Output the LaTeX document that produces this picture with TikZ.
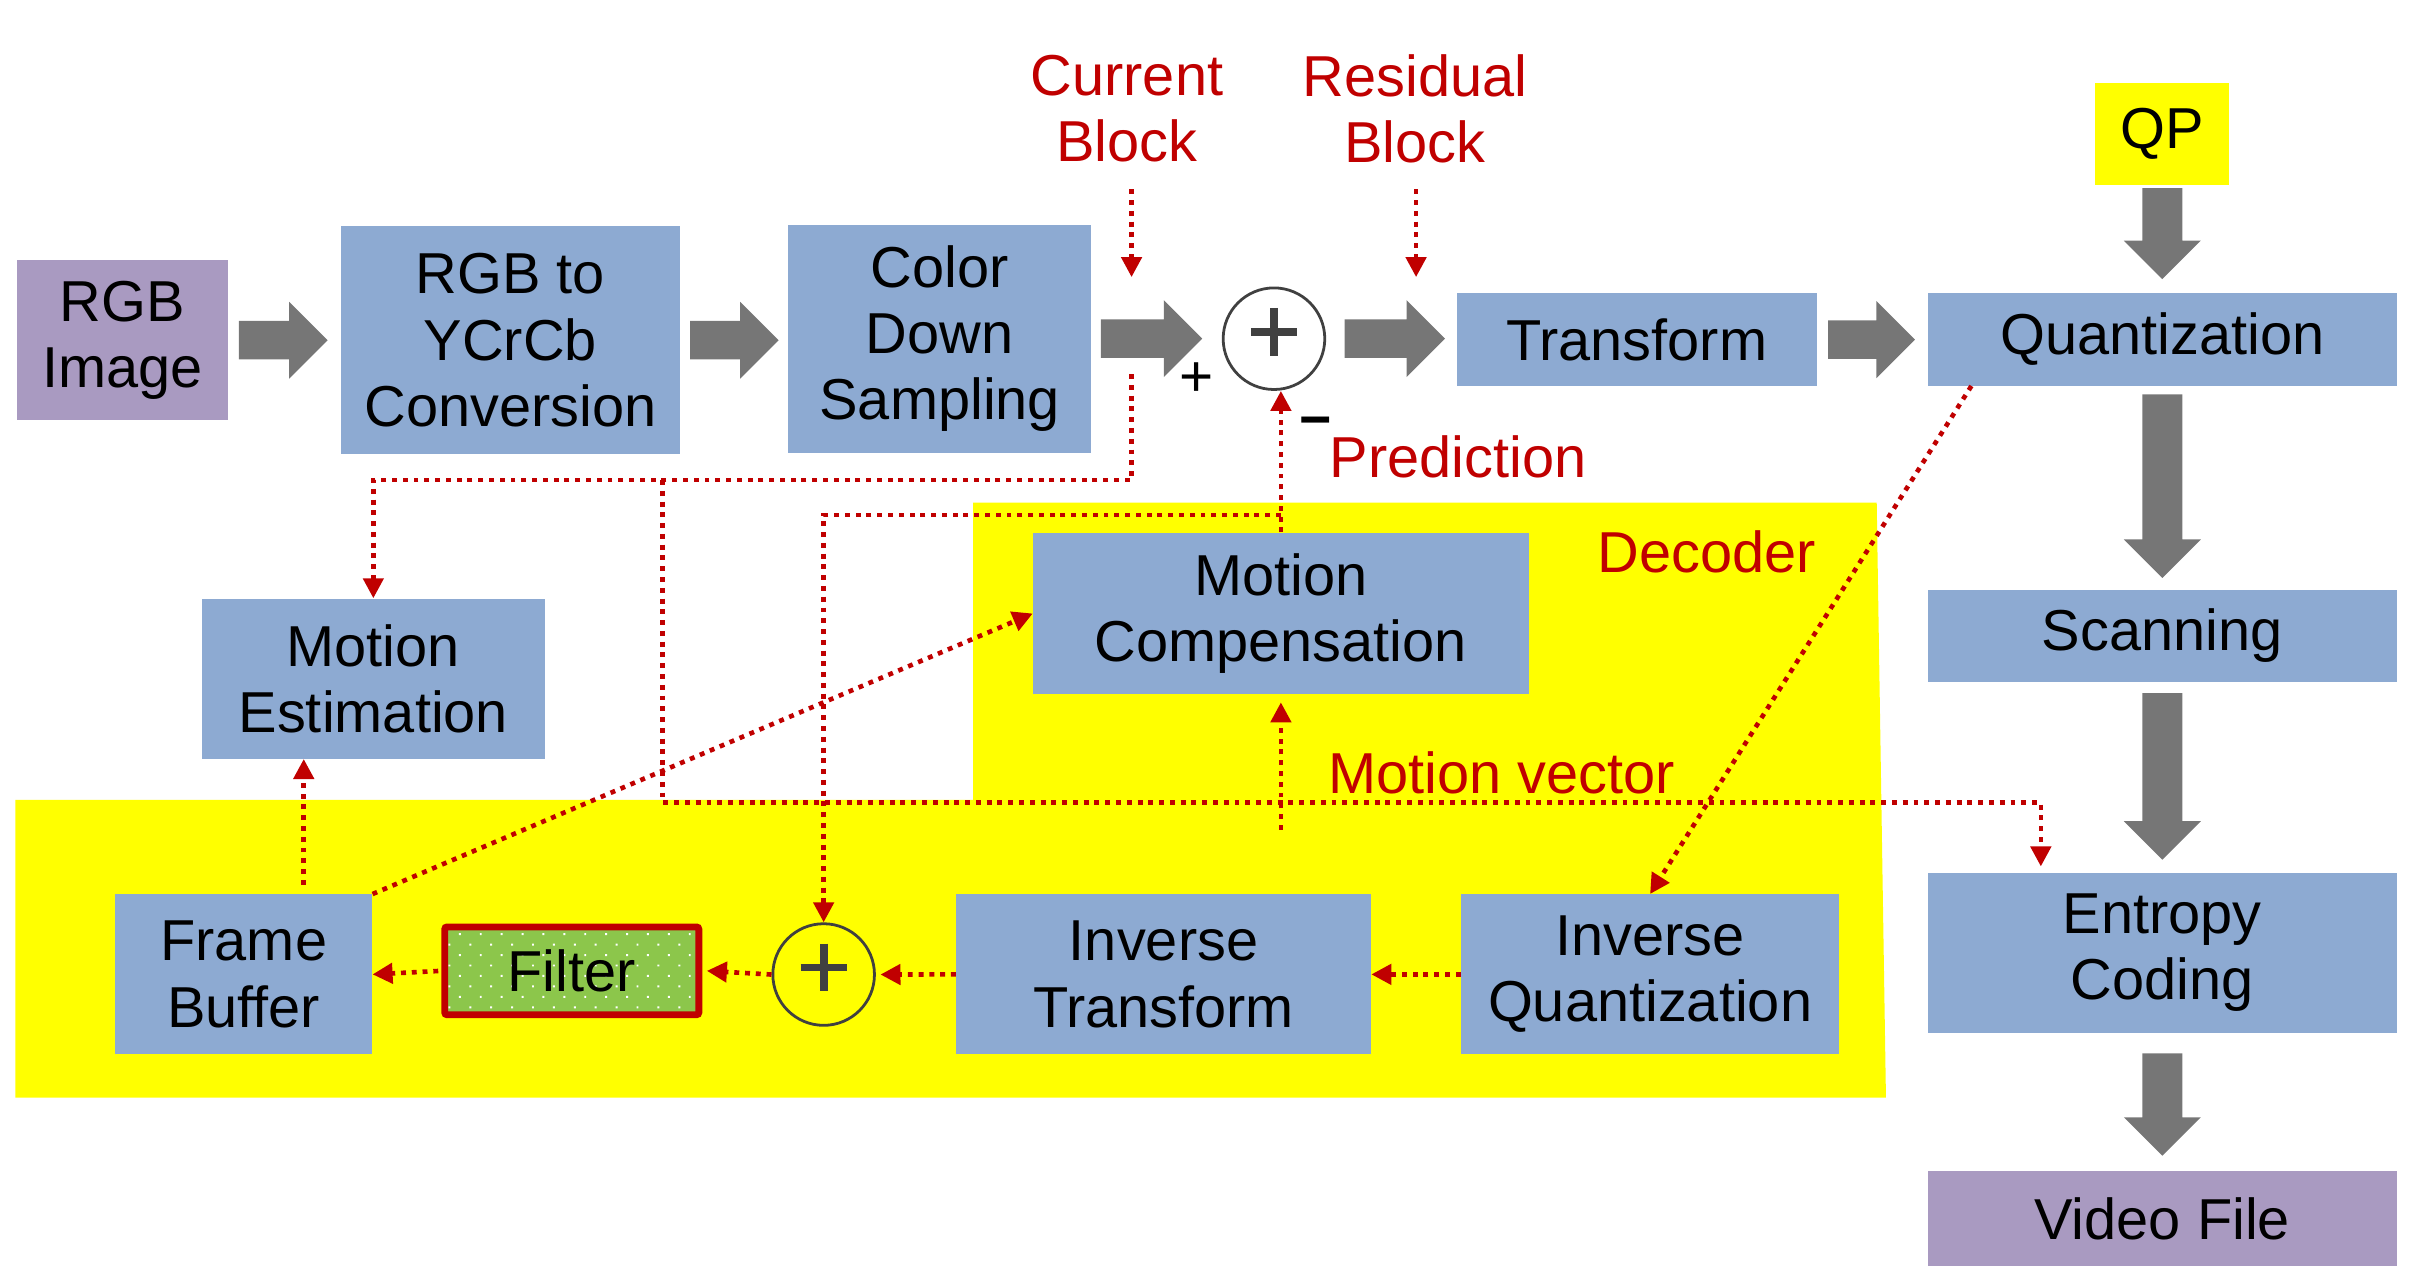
\documentclass[tikz,border=0pt]{standalone}
\usepackage{fontspec}
\setmainfont{Liberation Sans}
\usetikzlibrary{arrows.meta,calc,patterns.meta}
\definecolor{boxblue}{RGB}{141,170,210}
\definecolor{boxpurple}{RGB}{169,154,193}
\definecolor{garrow}{RGB}{118,118,118}
\definecolor{dred}{RGB}{192,0,0}
\definecolor{fgreen}{RGB}{140,198,75}
\definecolor{ylw}{RGB}{255,255,0}
\definecolor{sumgray}{RGB}{64,64,64}
\newcommand\hblk[4]{%
  \fill[garrow] let \p1=(#1.east), \p2=(#2.west) in
   (\x1+#3,\y1+12.5pt) -- (\x2-#4-25pt,\y1+12.5pt) -- (\x2-#4-25pt,\y1+25pt) --
   (\x2-#4,\y1) -- (\x2-#4-25pt,\y1-25pt) -- (\x2-#4-25pt,\y1-12.5pt) -- (\x1+#3,\y1-12.5pt) -- cycle;}
\newcommand\vblk[4]{%
  \fill[garrow] let \p1=(#1.south), \p2=(#2.north) in
   (\x1-13pt,\y1-#3) -- (\x1-13pt,\y2+#4+25pt) -- (\x1-25pt,\y2+#4+25pt) --
   (\x1,\y2+#4) -- (\x1+25pt,\y2+#4+25pt) -- (\x1+13pt,\y2+#4+25pt) -- (\x1+13pt,\y1-#3) -- cycle;}
\tikzset{
  box/.style={fill=boxblue, text=black, align=center, inner sep=0pt, font=\fontsize{37.5}{43}\selectfont},
  pbox/.style={box, fill=boxpurple},
  lbl/.style={text=dred, align=center, inner sep=0pt, font=\fontsize{37.5}{43}\selectfont},
  rdot/.style={draw=dred, line width=3pt, dash pattern=on 3.2pt off 3.8pt},
  rarr/.style={rdot, -{Triangle[length=13pt,width=13pt]}},
  sumc/.style={circle, draw=sumgray, line width=1.8pt, minimum size=66pt, inner sep=0pt},
  plusmark/.style={draw=sumgray, line width=5pt},
}
\begin{document}
\begin{tikzpicture}[x=1pt,y=-1pt]
\useasboundingbox (0,0) rectangle (1568,824);
% decoder background
\fill[ylw] (632,326.5) -- (1219,326.5) -- (1225,713) -- (10,713) -- (10,519.5) -- (632,519.5) -- cycle;
% top row
\node[pbox, minimum width=137pt, minimum height=104pt] (rgb) at (79.5,221) {RGB\\Image};
\node[box, minimum width=220pt, minimum height=148pt] (ycc) at (331.5,221) {RGB to\\YCrCb\\Conversion};
\node[box, minimum width=197pt, minimum height=148pt] (cds) at (610.4,220) {Color\\Down\\Sampling};
\node[sumc] (s1) at (827.5,220) {};
\node[box, minimum width=234pt, minimum height=60pt] (tr) at (1063.2,220.6) {Transform};
\node[box, minimum width=305pt, minimum height=60pt] (q) at (1404.5,220.5) {Quantization};
\node[box, fill=ylw, minimum width=87pt, minimum height=66pt] (qp) at (1404.5,87) {QP};
\node[box, minimum width=305pt, minimum height=60pt] (sc) at (1404.5,413) {Scanning};
\node[box, minimum width=305pt, minimum height=104pt] (ec) at (1404.5,619) {Entropy\\Coding};
\node[pbox, minimum width=305pt, minimum height=62pt] (vf) at (1404.5,791.5) {Video File};
% middle / bottom
\node[box, minimum width=322pt, minimum height=105pt] (mc) at (832,398.5) {Motion\\Compensation};
\node[box, minimum width=223pt, minimum height=104pt] (me) at (242.5,440.8) {Motion\\Estimation};
\node[box, minimum width=167pt, minimum height=104pt] (fb) at (158.3,632.9) {Frame\\Buffer};
\node[box, draw=dred, line width=4.5pt, rounded corners=1.5pt, preaction={fill=fgreen}, pattern={Dots[distance=9.6pt,angle=45,radius=0.9pt]}, pattern color=white, minimum width=165pt, minimum height=57pt] (fl) at (371.4,630.6) {Filter};
\node[sumc] (s2) at (535,633) {};
\node[box, minimum width=269.5pt, minimum height=104pt] (it) at (755.8,632.9) {Inverse\\Transform};
\node[box, minimum width=245.6pt, minimum height=104pt] (iq) at (1071.8,632.9) {Inverse\\Quantization};
% plus marks in summing circles
\draw[plusmark] ([yshift=4.5pt]s1.center) +(-15,0) -- +(15,0) +(0,-15.5) -- +(0,15.5);
\draw[plusmark] ([yshift=4.5pt]s2.center) +(-15,0) -- +(15,0) +(0,-15.5) -- +(0,15.5);
\node[anchor=base, inner sep=0pt, font=\fontsize{38}{38}\selectfont] (plus) at (777,257.5) {+};
\node[anchor=base, inner sep=0pt, font=\fontsize{36}{36}\selectfont\bfseries] (minus) at (854.5,284.5) {−};
% labels
\node[lbl] (lcur) at (732,70.7) {Current\\Block};
\node[lbl] (lres) at (919,70.5) {Residual\\Block};
\node[lbl, anchor=base] (lpred) at (947,310) {Prediction};
\node[lbl, anchor=base] (ldec) at (1108.8,371.7) {Decoder};
\node[lbl, anchor=base] (lmv) at (975.5,515.5) {Motion vector};
% gray block arrows
\hblk{rgb}{ycc}{7pt}{8.5pt}
\hblk{ycc}{cds}{6.5pt}{6pt}
\hblk{cds}{s1}{6pt}{12.7pt}
\hblk{s1}{tr}{12pt}{7.4pt}
\hblk{tr}{q}{7pt}{8pt}
\vblk{qp}{q}{2pt}{9pt}
\vblk{q}{sc}{5.5pt}{7.4pt}
\vblk{sc}{ec}{7pt}{8.4pt}
\vblk{ec}{vf}{13pt}{9.6pt}
% red dotted connectors
\coordinate (cbtop) at (735,123);
\coordinate (cbtip) at (735,180);
\coordinate (rbtop) at (919.8,123);
\coordinate (rbtip) at (919.8,180);
\draw[rarr] (cbtop) -- (cbtip);
\draw[rarr] (rbtop) -- (rbtip);
\draw[rarr] (mc.north) -- (mc.north |- s1.south);
\coordinate (pj) at (832,334.6);
\draw[rarr] (pj) -| (s2.north);
\coordinate (cbfoot) at (735,243);
\coordinate (mj) at (735,311.8);
\coordinate (bj) at (430.5,311.8);
\coordinate (ej) at (1325.6,521.4);
\draw[rarr] (cbfoot) -- (mj) -| (me.north);
\draw[rarr, shorten >=4pt] (bj) |- (ej) -- (ej |- ec.north);
\coordinate (mvfoot) at (832,539);
\draw[rarr, shorten >=5pt] (mvfoot) -- (mc.south);
\draw[rarr, shorten <=6pt] ([xshift=39pt]fb.north) -- ([xshift=39pt]fb.north |- me.south);
\draw[rarr] (fb.north east) -- (mc.west);
\draw[rarr] ([xshift=28.7pt]q.south west) -- (iq.north);
\draw[rarr] (iq.west) -- (it.east);
\draw[rarr, shorten >=3pt] (it.west) -- (s2.east);
\draw[rarr] (s2.west) -- ([xshift=3pt]fl.east);
\draw[rarr, shorten <=2pt] (fl.west) -- (fb.east);
\end{tikzpicture}
\end{document}
